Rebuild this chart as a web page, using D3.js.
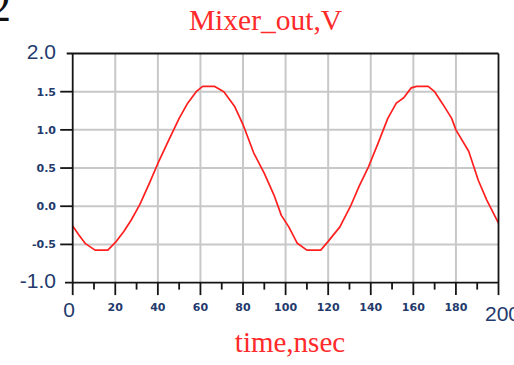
<!DOCTYPE html>
<html>
<head>
<meta charset="utf-8">
<script src="https://cdn.jsdelivr.net/npm/d3@7"></script>
<style>
  html, body { margin: 0; padding: 0; background: #fff; }
  svg { display: block; }
</style>
</head>
<body>
<svg id="chart" width="514" height="365"></svg>
<script>
// Mixer output voltage versus time
const timeNs = [0, 3, 6, 10.5, 16.5, 20.5, 24, 27.5, 31.5, 36, 40, 45.5, 50, 54, 58,
  61, 66.5, 71, 76, 80, 85, 90, 94.5, 98, 101.5, 105.5, 110, 116.5, 120, 125.5,
  130.5, 134.5, 139, 143.5, 148, 152, 155.5, 159, 161.5, 167, 170, 174, 178, 180, 186,
  190.5, 194.5, 200];
const mixerOutV = [-0.26, -0.38, -0.49, -0.575, -0.575, -0.46, -0.33, -0.18, 0.02, 0.30,
  0.56, 0.89, 1.15, 1.35, 1.50, 1.57, 1.57, 1.50, 1.31, 1.07, 0.70, 0.43, 0.15, -0.12, -0.27,
  -0.485, -0.575, -0.575, -0.46, -0.27, 0.0, 0.26, 0.52, 0.83, 1.15, 1.35, 1.42, 1.55, 1.57, 1.57,
  1.50, 1.33, 1.15, 1.0, 0.72, 0.34, 0.08, -0.22];

const xTicks = [0, 20, 40, 60, 80, 100, 120, 140, 160, 180, 200];
const xTickLabels = ["0", "20", "40", "60", "80", "100", "120", "140", "160", "180", "200"];
const xMinorTicks = [10, 30, 50, 70, 90, 110, 130, 150, 170, 190];
const yTicks = [-1, -0.5, 0, 0.5, 1, 1.5, 2];
const yTickLabels = ["-1.0", "-0.5", "0.0", "0.5", "1.0", "1.5", "2.0"];

const svg = d3.select("#chart");
const x = d3.scaleLinear().domain([0, 200]).range([72.7, 498.5]);
const y = d3.scaleLinear().domain([-1, 2]).range([282.6, 53.5]);

const axisColor = "#141414";
const gridColor = "#c8c8c8";
const labelColor = "#243a6c";

// panel number in the corner
svg.append("text")
  .attr("x", -11).attr("y", 21)
  .attr("font-family", "Liberation Serif, Times New Roman, serif")
  .attr("font-size", 44).attr("fill", "#111")
  .text("2");

// title and axis caption
svg.append("text")
  .attr("x", 265.5).attr("y", 29.5)
  .attr("text-anchor", "middle")
  .attr("font-family", "Liberation Serif, Times New Roman, serif")
  .attr("font-size", 29.5).attr("fill", "#ff2a2a")
  .text("Mixer_out,V");

svg.append("text")
  .attr("x", 290).attr("y", 352)
  .attr("text-anchor", "middle")
  .attr("font-family", "Liberation Serif, Times New Roman, serif")
  .attr("font-size", 29).attr("fill", "#ff2a2a")
  .text("time,nsec");

// grid
const grid = svg.append("g").attr("stroke", gridColor).attr("stroke-width", 2);
grid.selectAll("line.v").data(xTicks.slice(1, -1)).join("line")
  .attr("x1", d => x(d)).attr("x2", d => x(d))
  .attr("y1", y(2)).attr("y2", y(-1));
grid.selectAll("line.h").data(yTicks.slice(1, -1)).join("line")
  .attr("x1", x(0)).attr("x2", x(200))
  .attr("y1", d => y(d)).attr("y2", d => y(d));

// curve
const line = d3.line().x((d, i) => x(timeNs[i])).y(d => y(d));
svg.append("path")
  .datum(mixerOutV)
  .attr("d", line)
  .attr("fill", "none")
  .attr("stroke", "#ff1f1f")
  .attr("stroke-width", 1.7)
  .attr("stroke-linejoin", "round");

// frame and ticks
const frame = svg.append("g").attr("stroke", axisColor).attr("stroke-width", 1.8).attr("fill", "none");
frame.append("line").attr("x1", 66.7).attr("x2", x(200)).attr("y1", y(2)).attr("y2", y(2));
frame.append("line").attr("x1", 65).attr("x2", x(200)).attr("y1", y(-1)).attr("y2", y(-1));
frame.append("line").attr("x1", x(0)).attr("x2", x(0)).attr("y1", y(2)).attr("y2", y(-1) + 12.5);
frame.append("line").attr("x1", x(200)).attr("x2", x(200)).attr("y1", y(2)).attr("y2", y(-1) + 12.5);

frame.selectAll("line.ym").data(yTicks.slice(1, -1)).join("line")
  .attr("x1", x(0) - 12.5).attr("x2", x(0))
  .attr("y1", d => y(d)).attr("y2", d => y(d));
frame.selectAll("line.xm").data(xTicks.slice(1, -1)).join("line")
  .attr("x1", d => x(d)).attr("x2", d => x(d))
  .attr("y1", y(-1)).attr("y2", y(-1) + 12.5);
frame.selectAll("line.xn").data(xMinorTicks).join("line")
  .attr("x1", d => x(d)).attr("x2", d => x(d))
  .attr("y1", y(-1)).attr("y2", y(-1) + 7);

// tick labels: end values large, inner values small
const isEnd = (i, n) => i === 0 || i === n - 1;
svg.append("g").selectAll("text").data(yTicks).join("text")
  .attr("x", 56)
  .attr("y", (d, i) => y(d) + (isEnd(i, yTicks.length) ? 5 : 4))
  .attr("text-anchor", "end")
  .attr("font-family", (d, i) => isEnd(i, yTicks.length) ? "Liberation Sans, Arial, sans-serif" : "DejaVu Sans, Verdana, sans-serif")
  .attr("font-weight", (d, i) => isEnd(i, yTicks.length) ? "normal" : "bold")
  .attr("font-size", (d, i) => isEnd(i, yTicks.length) ? 21 : 11)
  .attr("fill", labelColor)
  .text((d, i) => yTickLabels[i]);

svg.append("g").selectAll("text").data(xTicks).join("text")
  .attr("x", (d, i) => x(d) + (i === 0 ? -3.5 : i === xTicks.length - 1 ? 4 : 0))
  .attr("y", (d, i) => isEnd(i, xTicks.length) ? (i === 0 ? 316.5 : 321) : 311)
  .attr("text-anchor", "middle")
  .attr("font-family", (d, i) => isEnd(i, xTicks.length) ? "Liberation Sans, Arial, sans-serif" : "DejaVu Sans, Verdana, sans-serif")
  .attr("font-weight", (d, i) => isEnd(i, xTicks.length) ? "normal" : "bold")
  .attr("font-size", (d, i) => isEnd(i, xTicks.length) ? 21 : 11)
  .attr("fill", labelColor)
  .text((d, i) => xTickLabels[i]);
</script>
</body>
</html>
